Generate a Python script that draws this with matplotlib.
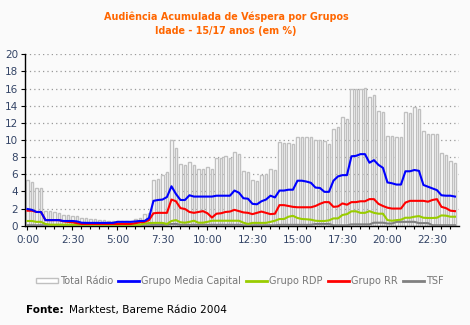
import matplotlib
matplotlib.use("Agg")
import matplotlib.pyplot as plt
from matplotlib.patches import Patch
from matplotlib.lines import Line2D
import numpy as np

# 15-minute slots, 0:00 .. 23:45
tick_labels = ["0:00", "2:30", "5:00", "7:30", "10:00", "12:30", "15:00", "17:30", "20:00", "22:30"]

total_radio = [5.3, 5.05, 4.4, 4.4, 1.7, 1.7, 1.6, 1.5, 1.3, 1.2, 1.1, 1.1, 0.9, 0.9, 0.8, 0.8,
               0.7, 0.65, 0.6, 0.55, 0.55, 0.55, 0.55, 0.55, 0.75, 0.85, 1.4, 1.45, 5.3, 5.45, 5.9, 6.25,
               10.0, 9.1, 7.15, 7.05, 7.4, 7.05, 6.6, 6.6, 6.85, 6.6, 7.9, 7.9, 8.15, 7.9, 8.6, 8.35,
               6.4, 6.3, 5.3, 5.2, 5.95, 6.05, 6.6, 6.5, 9.75, 9.65, 9.6, 9.5, 10.4, 10.4, 10.4, 10.4,
               10.0, 10.0, 9.9, 9.5, 11.25, 11.5, 12.65, 12.4, 16.0, 15.9, 15.9, 16.1, 15.05, 15.2, 13.4, 13.3,
               10.5, 10.5, 10.3, 10.3, 13.3, 13.2, 13.8, 13.65, 11.05, 10.7, 10.7, 10.7, 8.45, 8.3, 7.5, 7.3]

media_capital = [1.95, 1.85, 1.6, 1.6, 0.65, 0.65, 0.65, 0.65, 0.55, 0.55, 0.55, 0.5, 0.35, 0.33, 0.33, 0.33,
                 0.33, 0.33, 0.33, 0.33, 0.45, 0.45, 0.45, 0.45, 0.5, 0.55, 0.55, 0.9, 2.9, 3.0, 3.05, 3.35,
                 4.6, 3.7, 3.0, 3.0, 3.55, 3.4, 3.4, 3.4, 3.4, 3.4, 3.5, 3.5, 3.5, 3.5, 4.1, 3.85,
                 3.2, 3.15, 2.55, 2.5, 2.85, 3.05, 3.5, 3.3, 4.1, 4.1, 4.2, 4.2, 5.25, 5.25, 5.15, 5.0,
                 4.45, 4.4, 3.95, 3.95, 5.25, 5.75, 5.9, 5.9, 8.1, 8.15, 8.35, 8.35, 7.35, 7.65, 7.1, 6.75,
                 5.05, 4.95, 4.8, 4.8, 6.35, 6.35, 6.5, 6.4, 4.75, 4.55, 4.35, 4.15, 3.55, 3.5, 3.5, 3.4]

rdp = [0.55, 0.55, 0.45, 0.45, 0.2, 0.12, 0.12, 0.12, 0.12, 0.12, 0.12, 0.12, 0.12, 0.12, 0.12, 0.12,
       0.12, 0.12, 0.12, 0.12, 0.12, 0.12, 0.12, 0.12, 0.12, 0.12, 0.25, 0.3, 0.33, 0.33, 0.33, 0.2,
       0.55, 0.65, 0.4, 0.35, 0.45, 0.58, 0.35, 0.35, 0.45, 0.58, 0.58, 0.58, 0.58, 0.58, 0.58, 0.58,
       0.35, 0.2, 0.33, 0.33, 0.33, 0.33, 0.45, 0.58, 0.78, 0.78, 1.05, 1.15, 0.9, 0.78, 0.75, 0.7,
       0.58, 0.55, 0.55, 0.62, 0.85, 0.85, 1.25, 1.35, 1.68, 1.68, 1.5, 1.5, 1.7, 1.5, 1.4, 1.4,
       0.65, 0.58, 0.65, 0.7, 0.93, 0.93, 1.05, 1.12, 0.93, 0.9, 0.9, 0.93, 1.2, 1.17, 1.05, 1.05]

rr = [1.75, 1.75, 1.6, 1.6, 0.65, 0.65, 0.65, 0.65, 0.5, 0.45, 0.4, 0.3, 0.2, 0.2, 0.2, 0.2,
      0.2, 0.2, 0.2, 0.2, 0.2, 0.2, 0.2, 0.2, 0.3, 0.4, 0.45, 0.65, 1.45, 1.5, 1.5, 1.5,
      3.05, 2.85, 2.05, 1.95, 1.6, 1.5, 1.6, 1.7, 1.45, 0.95, 1.4, 1.45, 1.6, 1.65, 1.85, 1.7,
      1.55, 1.5, 1.35, 1.5, 1.65, 1.5, 1.35, 1.4, 2.4, 2.4, 2.3, 2.2, 2.15, 2.15, 2.15, 2.15,
      2.3, 2.55, 2.75, 2.75, 2.2, 2.25, 2.6, 2.45, 2.75, 2.75, 2.85, 2.85, 3.1, 3.1, 2.55, 2.3,
      2.1, 2.0, 2.0, 2.0, 2.7, 2.9, 2.9, 2.9, 2.9, 2.8, 3.0, 3.1, 2.2, 2.05, 1.75, 1.7]

tsf = [0.05, 0.05, 0.05, 0.05, 0.05, 0.05, 0.05, 0.05, 0.05, 0.05, 0.05, 0.05, 0.05, 0.05, 0.05, 0.05,
       0.05, 0.05, 0.05, 0.05, 0.05, 0.05, 0.05, 0.05, 0.05, 0.05, 0.05, 0.05, 0.1, 0.1, 0.1, 0.1,
       0.2, 0.2, 0.1, 0.1, 0.1, 0.1, 0.1, 0.1, 0.1, 0.1, 0.1, 0.1, 0.1, 0.1, 0.1, 0.1,
       0.05, 0.05, 0.05, 0.05, 0.05, 0.05, 0.05, 0.05, 0.1, 0.1, 0.1, 0.1, 0.1, 0.1, 0.1, 0.1,
       0.2, 0.2, 0.2, 0.2, 0.05, 0.05, 0.05, 0.05, 0.15, 0.15, 0.15, 0.15, 0.15, 0.35, 0.35, 0.35,
       0.25, 0.25, 0.45, 0.45, 0.45, 0.45, 0.45, 0.3, 0.3, 0.3, 0.05, 0.05, 0.05, 0.05, 0.05, 0.05]

series_names = ["Total Rádio", "Grupo Media Capital", "Grupo RDP", "Grupo RR", "TSF"]

BG = "#FAFAFA"
C_BAR = "#C0C0C0"
C_BLUE = "#0000FF"
C_GREEN = "#99CC00"
C_RED = "#FF0000"
C_GRAY = "#808080"
C_TICK = "#334466"
C_TITLE = "#FF6600"

plt.rcParams['font.family'] = ['DejaVu Sans']

fig = plt.figure(figsize=(4.7, 3.25), dpi=100, facecolor=BG)
ax = fig.add_axes([25/470, 99.3/325, 434/470, 171.4/325], facecolor=BG)

x = np.arange(len(total_radio))
ax.bar(x, total_radio, width=0.62, facecolor="white", edgecolor=C_BAR, linewidth=1.0, zorder=2)
ax.plot(x, tsf, color=C_GRAY, lw=1.5, zorder=3)
ax.plot(x, rdp, color=C_GREEN, lw=1.5, zorder=4)
ax.plot(x, rr, color=C_RED, lw=1.5, zorder=5)
ax.plot(x, media_capital, color=C_BLUE, lw=1.5, zorder=6)

ax.set_xlim(-0.55, 95.9)
ax.set_ylim(0, 20)
ax.set_yticks(np.arange(0, 21, 2))
ax.set_xticks(np.arange(0, 96, 10))
ax.set_xticklabels(tick_labels)
ax.set_xticks(np.arange(0, 96, 2), minor=True)

for yv in np.arange(2, 21, 2):
    ax.axhline(yv, color="#999999", lw=0.9, linestyle=(0, (1, 2.5)), zorder=1)

for s in ["top", "right"]:
    ax.spines[s].set_visible(False)
ax.spines["left"].set_color("black")
ax.spines["bottom"].set_color("black")
ax.spines["left"].set_linewidth(1.0)
ax.spines["bottom"].set_linewidth(1.0)

ax.tick_params(axis="y", which="major", length=3, width=0.8, colors="black", labelcolor=C_TICK, labelsize=7.5, pad=2)
ax.tick_params(axis="x", which="major", length=3, width=0.8, colors="black", labelcolor=C_TICK, labelsize=7.5, pad=4)
ax.tick_params(axis="x", which="minor", length=2.5, width=0.8, colors="black")

fig.text(226/470, 1 - 17/325, "Audiência Acumulada de Véspera por Grupos", ha="center", va="center",
         color=C_TITLE, fontsize=6.9, fontweight="bold")
fig.text(226/470, 1 - 31/325, "Idade - 15/17 anos (em %)", ha="center", va="center",
         color=C_TITLE, fontsize=6.9, fontweight="bold")

handles = [Patch(facecolor="white", edgecolor=C_BAR, linewidth=1.0),
           Line2D([], [], color=C_BLUE, lw=2),
           Line2D([], [], color=C_GREEN, lw=2),
           Line2D([], [], color=C_RED, lw=2),
           Line2D([], [], color=C_GRAY, lw=2)]
leg = fig.legend(handles, series_names, loc="center", bbox_to_anchor=(240/470, 1 - 281/325), ncol=5,
                 frameon=False, fontsize=7, handlelength=2.2, handleheight=0.5, handletextpad=0.2,
                 columnspacing=0.5, borderaxespad=0)
for t in leg.get_texts():
    t.set_color("#777777")

fig.text(26/470, 1 - 310/325, "Fonte:", ha="left", va="center", fontsize=7.5, fontweight="bold", color="black")
fig.text(69/470, 1 - 310/325, "Marktest, Bareme Rádio 2004", ha="left", va="center", fontsize=7.6, color="black")

fig.savefig("out.png", dpi=100, facecolor=BG)
